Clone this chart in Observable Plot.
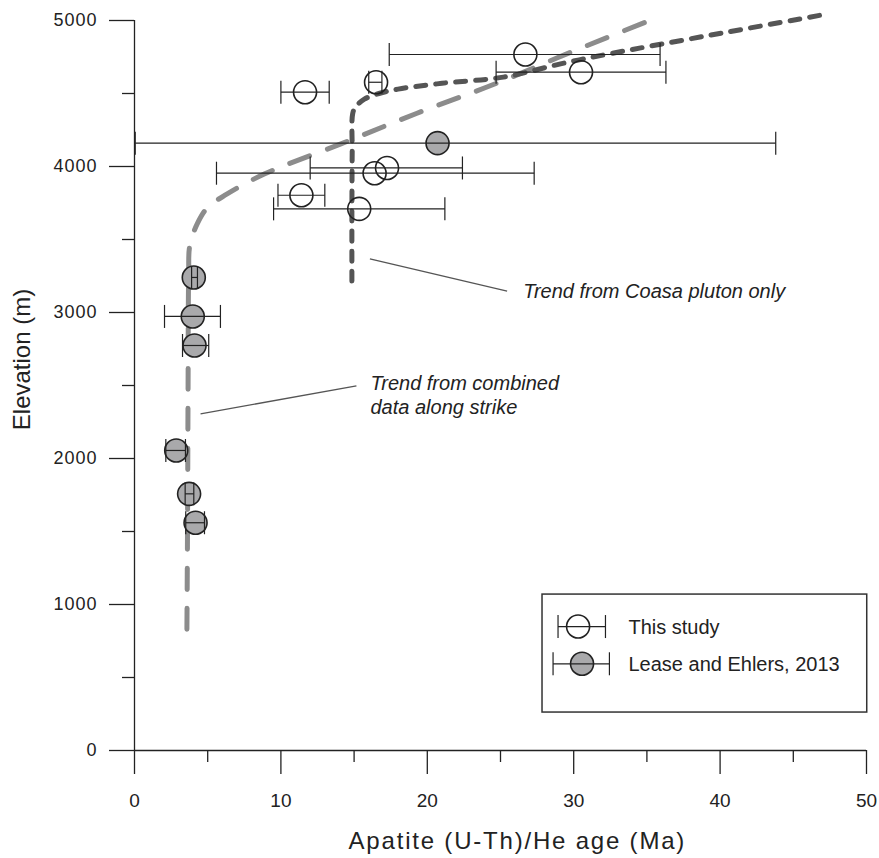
<!DOCTYPE html>
<html><head><meta charset="utf-8">
<script src="https://cdn.jsdelivr.net/npm/d3@7"></script>
<script src="https://cdn.jsdelivr.net/npm/@observablehq/plot@0.6"></script>
<style>
body{margin:0;background:#fff}
#chart svg [aria-label="y-axis tick label"] text{letter-spacing:1px}
#chart svg [aria-label="x-title"]{letter-spacing:1.8px}
</style></head><body><div id="chart"></div>
<script>
// This study (open circles)
const studyAge  = [26.7, 30.5, 16.5, 11.65, 17.25, 16.4, 11.4, 15.35];
const studyElev = [4767, 4646, 4577, 4509, 3990, 3954, 3803, 3710];
const studyLo   = [17.4, 24.7, 16.0, 10.0, 12.0, 5.6, 9.8, 9.5];
const studyHi   = [35.9, 36.3, 16.9, 13.3, 22.4, 27.3, 13.0, 21.2];
// Lease and Ehlers, 2013 (filled circles)
const leaseAge  = [20.7, 4.05, 3.98, 4.1, 2.85, 3.73, 4.17];
const leaseElev = [4160, 3240, 2973, 2774, 2055, 1758, 1560];
const leaseLo   = [0.05, 3.9, 2.05, 3.28, 2.14, 3.46, 3.5];
const leaseHi   = [43.8, 4.3, 5.87, 5.07, 3.48, 4.05, 4.78];
// Trend from combined data along strike
const combAge  = [3.58, 3.62, 3.66, 3.7, 3.78, 4.3, 5.0, 6.3, 8.9, 14.1, 19.3, 24.6, 30.1, 35.7];
const combElev = [830, 1500, 2500, 3250, 3460, 3610, 3720, 3810, 3950, 4155, 4365, 4565, 4795, 5020];
// Trend from Coasa pluton only
const coasaAge  = [14.85, 14.85, 14.87, 14.9, 15.08, 15.7, 16.7, 18.0, 21.0, 25.2, 29.1, 32.4, 39.2, 47.4];
const coasaElev = [3215, 3700, 4100, 4360, 4405, 4461, 4500, 4530, 4570, 4612, 4703, 4771, 4897, 5046];
// axis ticks
const xMajor = [0, 10, 20, 30, 40, 50];
const xMinor = [5, 15, 25, 35, 45];
const yMajor = [0, 1000, 2000, 3000, 4000, 5000];
const yMinor = [500, 1500, 2500, 3500, 4500];
const legendLabels = ["This study", "Lease and Ehlers, 2013"];

const study = studyAge.map((a, i) => ({age: a, elev: studyElev[i], lo: studyLo[i], hi: studyHi[i]}));
const lease = leaseAge.map((a, i) => ({age: a, elev: leaseElev[i], lo: leaseLo[i], hi: leaseHi[i]}));
const allPts = study.concat(lease);
const comb = combAge.map((a, i) => ({age: a, elev: combElev[i]}));
const coasa = coasaAge.map((a, i) => ({age: a, elev: coasaElev[i]}));

// annotation layout (in data units)
const notes = [
  {age: 26.55, elev: 3096, text: "Trend from Coasa pluton only"},
  {age: 16.12, elev: 2308, text: "Trend from combined\ndata along strike"}
];
const leaders = [
  {x1: 16.08, y1: 3368, x2: 25.45, y2: 3146},
  {x1: 4.51, y1: 2306, x2: 15.16, y2: 2497}
];
const yTitle = [{text: "Elevation (m)", elev: 2678}];
const xTitle = [{text: "Apatite (U-Th)/He age (Ma)", age: 26.15}];
const legendBox = [{x1: 27.87, x2: 50.05, y1: 260, y2: 1068}];
const legendItems = [
  {age: 30.3, elev: 849, lo: 28.93, hi: 32.17, tx: 33.74, label: legendLabels[0], fill: "none"},
  {age: 30.57, elev: 594, lo: 28.59, hi: 32.44, tx: 33.74, label: legendLabels[1], fill: "#a9a9ab"}
];

const vbar = {draw(ctx, size) { const h = Math.sqrt(size / Math.PI); ctx.moveTo(0, -h); ctx.lineTo(0, h); }};
const ink = "#222";
const R = 11.5;

const chart = Plot.plot({
  width: 879, height: 858,
  marginLeft: 134, marginRight: 13, marginTop: 20, marginBottom: 108,
  x: {domain: [0, 50]},
  y: {domain: [0, 5000]},
  style: {fontFamily: '"Liberation Sans", Arial, Helvetica, sans-serif', color: ink, background: "#fff", overflow: "visible"},
  marks: [
    Plot.line(comb, {x: "age", y: "elev", stroke: "#8c8c8c", strokeWidth: 5, strokeDasharray: "21,19", curve: "catmull-rom"}),
    Plot.line(coasa, {x: "age", y: "elev", stroke: "#555", strokeWidth: 5, strokeDasharray: "10,10", curve: "catmull-rom"}),
    Plot.link(leaders, {x1: "x1", y1: "y1", x2: "x2", y2: "y2", stroke: "#555", strokeWidth: 1.3}),
    Plot.text(notes, {x: "age", y: "elev", text: "text", textAnchor: "start", lineAnchor: "bottom", lineHeight: 1.2, fontStyle: "italic", fontSize: 20, fill: ink}),
    Plot.dot(lease, {x: "age", y: "elev", r: R, fill: "#a9a9ab", stroke: ink, strokeWidth: 1.6}),
    Plot.dot(study, {x: "age", y: "elev", r: R, fill: "none", stroke: ink, strokeWidth: 1.6}),
    Plot.link(allPts, {x1: "lo", x2: "hi", y1: "elev", y2: "elev", stroke: ink, strokeWidth: 1.2}),
    Plot.dot(allPts, {x: "lo", y: "elev", symbol: vbar, r: R, fill: "none", stroke: ink, strokeWidth: 1.2}),
    Plot.dot(allPts, {x: "hi", y: "elev", symbol: vbar, r: R, fill: "none", stroke: ink, strokeWidth: 1.2}),
    // axes
    Plot.ruleX([0], {stroke: ink, strokeWidth: 1.3}),
    Plot.ruleY([0], {stroke: ink, strokeWidth: 1.3}),
    Plot.axisY(yMajor, {tickSize: 25, tickPadding: 12, fontSize: 18, label: null, strokeWidth: 1.3, tickFormat: d => String(d)}),
    Plot.axisY(yMinor, {tickSize: 12, text: null, label: null, strokeWidth: 1.3}),
    Plot.axisX(xMajor, {tickSize: 24, tickPadding: 19, fontSize: 19, label: null, strokeWidth: 1.3, tickFormat: d => String(d)}),
    Plot.axisX(xMinor, {tickSize: 12, text: null, label: null, strokeWidth: 1.3}),
    Plot.text(yTitle, {y: "elev", text: "text", frameAnchor: "left", textAnchor: "middle", lineAnchor: "middle", rotate: -90, dx: -112, fontSize: 24, fill: ink}),
    Plot.text(xTitle, {x: "age", text: "text", frameAnchor: "bottom", textAnchor: "middle", lineAnchor: "bottom", dy: 98, fontSize: 24, fill: ink, ariaLabel: () => "x-title"}),
    // legend
    Plot.rect(legendBox, {x1: "x1", x2: "x2", y1: "y1", y2: "y2", fill: "#fff", stroke: "#333", strokeWidth: 1.5}),
    Plot.dot(legendItems, {x: "age", y: "elev", r: R, fill: "fill", stroke: ink, strokeWidth: 1.6}),
    Plot.link(legendItems, {x1: "lo", x2: "hi", y1: "elev", y2: "elev", stroke: ink, strokeWidth: 1.2}),
    Plot.dot(legendItems, {x: "lo", y: "elev", symbol: vbar, r: R, fill: "none", stroke: ink, strokeWidth: 1.2}),
    Plot.dot(legendItems, {x: "hi", y: "elev", symbol: vbar, r: R, fill: "none", stroke: ink, strokeWidth: 1.2}),
    Plot.text(legendItems, {x: "tx", y: "elev", text: "label", textAnchor: "start", fontSize: 20, fill: ink, dy: 1})
  ]
});
document.getElementById("chart").appendChild(chart);
</script></body></html>
